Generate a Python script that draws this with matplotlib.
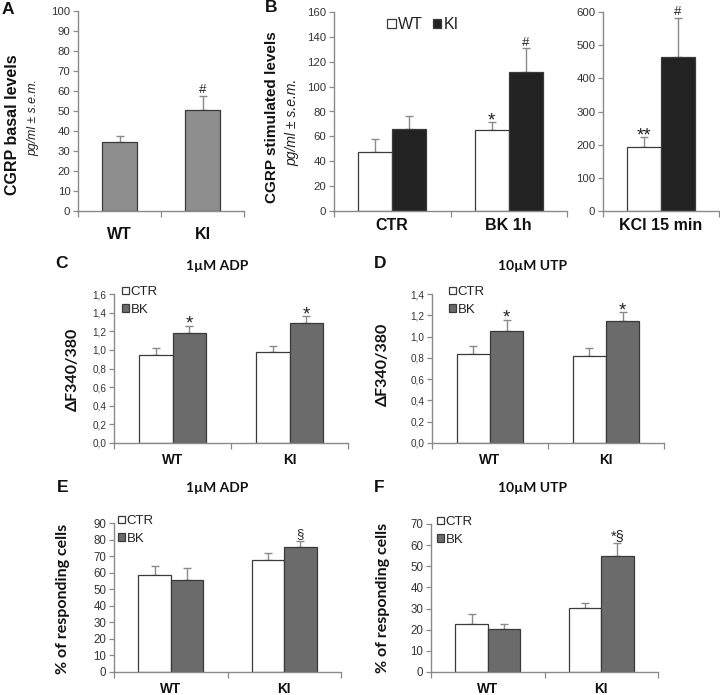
import matplotlib
matplotlib.use("Agg")
import matplotlib.pyplot as plt
import numpy as np
from matplotlib.ticker import FuncFormatter

plt.rcParams['font.family'] = ['Liberation Sans', 'DejaVu Sans']

# ---------------- data ----------------
a_groups = ['WT', 'KI']
a_mean = [34.5, 50.4]
a_sem = [2.8, 7.2]
a_marks = ['', '#']

b_groups = ['CTR', 'BK 1h']
b_wt_mean = [47.5, 65.3]
b_wt_sem = [10.6, 6.1]
b_ki_mean = [66.0, 111.6]
b_ki_sem = [10.6, 19.2]
b_wt_marks = ['', '*']
b_ki_marks = ['', '#']

k_groups = ['KCl 15 min']
k_wt_mean = [194]
k_wt_sem = [28]
k_ki_mean = [463]
k_ki_sem = [120]
k_wt_marks = ['**']
k_ki_marks = ['#']

cd_groups = ['WT', 'KI']
c_ctr_mean = [0.95, 0.98]
c_ctr_sem = [0.07, 0.06]
c_bk_mean = [1.18, 1.285]
c_bk_sem = [0.08, 0.075]
c_bk_marks = ['*', '*']

d_ctr_mean = [0.835, 0.82]
d_ctr_sem = [0.075, 0.07]
d_bk_mean = [1.05, 1.15]
d_bk_sem = [0.11, 0.08]
d_bk_marks = ['*', '*']

e_ctr_mean = [58.6, 67.4]
e_ctr_sem = [5.4, 4.7]
e_bk_mean = [55.6, 75.5]
e_bk_sem = [7.2, 3.6]
e_bk_marks = ['', '§']

f_ctr_mean = [22.5, 30.2]
f_ctr_sem = [4.7, 2.4]
f_bk_mean = [20.3, 55.0]
f_bk_sem = [2.5, 5.9]
f_bk_marks = ['', '*§']

# ---------------- style ----------------
W, H = 720, 695
fig = plt.figure(figsize=(W / 100, H / 100), dpi=100)

AXC = '#8a8a8a'
TXT = '#222222'
GRAY_A = '#8e8e8e'
GRAY_BK = '#6b6b6b'
BLACK = '#222222'
EDGE = '#3a3a3a'
ERRC = '#8a8a8a'
TITLE_FONT = ['Lato', 'DejaVu Sans']


def add_ax(l, r, t, b):
    return fig.add_axes([l / W, 1 - b / H, (r - l) / W, (b - t) / H])


def style_axis(ax, groups, ymax, ystep, tick_fs, xlab_fs, xpad, comma=False):
    for s in ['top', 'right']:
        ax.spines[s].set_visible(False)
    for s in ['left', 'bottom']:
        ax.spines[s].set_color(AXC)
        ax.spines[s].set_linewidth(1.0)
    n = len(groups)
    ax.set_xlim(-0.5, n - 0.5)
    ax.set_ylim(0, ymax)
    ax.set_yticks(np.arange(0, ymax + ystep / 2, ystep))
    if comma:
        ax.yaxis.set_major_formatter(FuncFormatter(lambda v, p: f"{v:.1f}".replace('.', ',')))
    ax.tick_params(axis='y', direction='out', length=3.5, width=0.9, color=AXC,
                   labelsize=tick_fs, labelcolor='#333333', pad=2)
    ax.set_xticks(np.arange(n))
    ax.set_xticklabels(groups, fontsize=xlab_fs, fontweight='bold', color='#111111')
    ax.tick_params(axis='x', which='major', length=0, pad=xpad)
    ax.set_xticks(np.arange(n + 1) - 0.5, minor=True)
    ax.tick_params(axis='x', which='minor', direction='out', length=4, width=0.9, color=AXC)
    ax.patch.set_alpha(0)


def bars(ax, x, mean, sem, color, width):
    h = ax.bar(x, mean, width=width, color=color, edgecolor=EDGE, linewidth=0.9, zorder=2)
    ax.errorbar(x, mean, yerr=[np.zeros(len(mean)), sem], fmt='none', ecolor=ERRC,
                elinewidth=1.0, capsize=2.6, capthick=1.0, zorder=1)
    return h


OFFS = {'#': 2.0, '*': -2.2, '**': -2.2, '§': 3.0, '*§': 2.0}
FS = {'#': 9.5, '*': 13.5, '**': 13.5, '§': 9.5, '*§': 10.5}


def marks(ax, x, mean, sem, labels):
    for xi, m, s, lab in zip(x, mean, sem, labels):
        if lab:
            ax.annotate(lab, (xi, m + s), xytext=(0, OFFS[lab]), textcoords='offset points',
                        ha='center', va='baseline', fontsize=FS[lab], color=TXT,
                        annotation_clip=False)


def legend(ax, handles, labels, anchor, fs, hsize, spacing, ncol=1, colsp=0.5):
    lg = ax.legend(handles, labels, loc='upper left', bbox_to_anchor=anchor,
                   frameon=False, fontsize=fs, handlelength=hsize, handleheight=hsize,
                   handletextpad=0.15, labelspacing=spacing, borderpad=0, borderaxespad=0,
                   ncol=ncol, columnspacing=colsp)
    for t in lg.get_texts():
        t.set_color('#222222')
    return lg


# ---------------- panel A ----------------
axA = add_ax(78, 244, 11, 211)
style_axis(axA, a_groups, 100, 10, 8.2, 11.5, 11.5)
xa = np.arange(len(a_groups))
bars(axA, xa, a_mean, a_sem, GRAY_A, 0.41)
marks(axA, xa, a_mean, a_sem, a_marks)

# ---------------- panel B ----------------
w = 0.29
axB = add_ax(334, 567, 12, 211)
style_axis(axB, b_groups, 160, 20, 8.2, 11.5, 5)
xb = np.arange(len(b_groups))
hb1 = bars(axB, xb - w / 2, b_wt_mean, b_wt_sem, 'white', w)
hb2 = bars(axB, xb + w / 2, b_ki_mean, b_ki_sem, BLACK, w)
marks(axB, xb - w / 2, b_wt_mean, b_wt_sem, b_wt_marks)
marks(axB, xb + w / 2, b_ki_mean, b_ki_sem, b_ki_marks)
legend(axB, [hb1, hb2], ['WT', 'KI'], ((387 - 334) / 233, 1 - (17 - 12) / 199), 11.5, 0.55, 0.3,
       ncol=2, colsp=0.6)

axK = add_ax(603, 719, 12, 211)
style_axis(axK, k_groups, 600, 100, 8.2, 11.5, 5)
xk = np.arange(len(k_groups))
bars(axK, xk - w / 2, k_wt_mean, k_wt_sem, 'white', w)
bars(axK, xk + w / 2, k_ki_mean, k_ki_sem, BLACK, w)
marks(axK, xk - w / 2, k_wt_mean, k_wt_sem, k_wt_marks)
marks(axK, xk + w / 2, k_ki_mean, k_ki_sem, k_ki_marks)


# ---------------- panels C-F ----------------
def panel(box, ymax, ystep, comma, tick_fs, ctr_m, ctr_s, bk_m, bk_s, bk_marks, leg_anchor):
    ax = add_ax(*box)
    style_axis(ax, cd_groups, ymax, ystep, tick_fs, 9.8, 7.5, comma=comma)
    x = np.arange(len(cd_groups))
    ww = 0.285
    h1 = bars(ax, x - ww / 2, ctr_m, ctr_s, 'white', ww)
    h2 = bars(ax, x + ww / 2, bk_m, bk_s, GRAY_BK, ww)
    marks(ax, x + ww / 2, bk_m, bk_s, bk_marks)
    legend(ax, [h1, h2], ['CTR', 'BK'], leg_anchor, 9.5, 0.5, 0.42)
    return ax


axC = panel((114, 348, 294, 443), 1.6, 0.2, True, 7.2, c_ctr_mean, c_ctr_sem, c_bk_mean, c_bk_sem,
            c_bk_marks, ((122 - 114) / 234, 1 + 8 / 149))
axD = panel((432, 664, 294, 443), 1.4, 0.2, True, 7.2, d_ctr_mean, d_ctr_sem, d_bk_mean, d_bk_sem,
            d_bk_marks, ((449 - 432) / 232, 1 + 8 / 149))
axE = panel((114, 341, 523, 672), 90, 10, False, 8.3, e_ctr_mean, e_ctr_sem, e_bk_mean, e_bk_sem,
            e_bk_marks, ((118 - 114) / 227, 1 + 8 / 149))
axF = panel((431, 658, 524, 672), 70, 10, False, 8.3, f_ctr_mean, f_ctr_sem, f_bk_mean, f_bk_sem,
            f_bk_marks, ((437 - 431) / 227, 1 + 8 / 148))


# ---------------- figure texts ----------------
def ftext(x, y, s, **kw):
    fig.text(x / W, 1 - y / H, s, ha='center', va='center', **kw)


for (x, y, s) in [(8, 9, 'A'), (271, 8, 'B'), (62, 264, 'C'), (380, 264, 'D'),
                  (63, 488, 'E'), (379, 488, 'F')]:
    ftext(x, y, s, fontsize=12.5, fontweight='bold', color='#111111')

ftext(13, 125, 'CGRP basal levels', rotation=90, fontsize=11.5, fontweight='bold', color='#111111')
ftext(33, 118, 'pg/ml ± s.e.m.', rotation=90, fontsize=8.8, style='italic', color='#222222')
ftext(272, 117, 'CGRP stimulated levels', rotation=90, fontsize=11, fontweight='bold', color='#111111')
ftext(292, 122, 'pg/ml ± s.e.m.', rotation=90, fontsize=10, style='italic', color='#222222')

for (x, y, s) in [(217, 266, '1µM ADP'), (533, 266, '10µM UTP'),
                  (217, 488, '1µM ADP'), (533, 488, '10µM UTP')]:
    ftext(x, y, s, fontsize=10, fontweight='bold', family=TITLE_FONT, color='#111111')

for (x, y) in [(73, 369), (383, 364)]:
    ftext(x, y, 'ΔF340/380', rotation=90, fontsize=11.5, fontweight='bold', family=TITLE_FONT,
          color='#111111')
for (x, y) in [(63, 599), (383, 598)]:
    ftext(x, y, '% of responding cells', rotation=90, fontsize=11.5, fontweight='bold',
          family=TITLE_FONT, color='#111111')

fig.savefig('out.png', dpi=100)
